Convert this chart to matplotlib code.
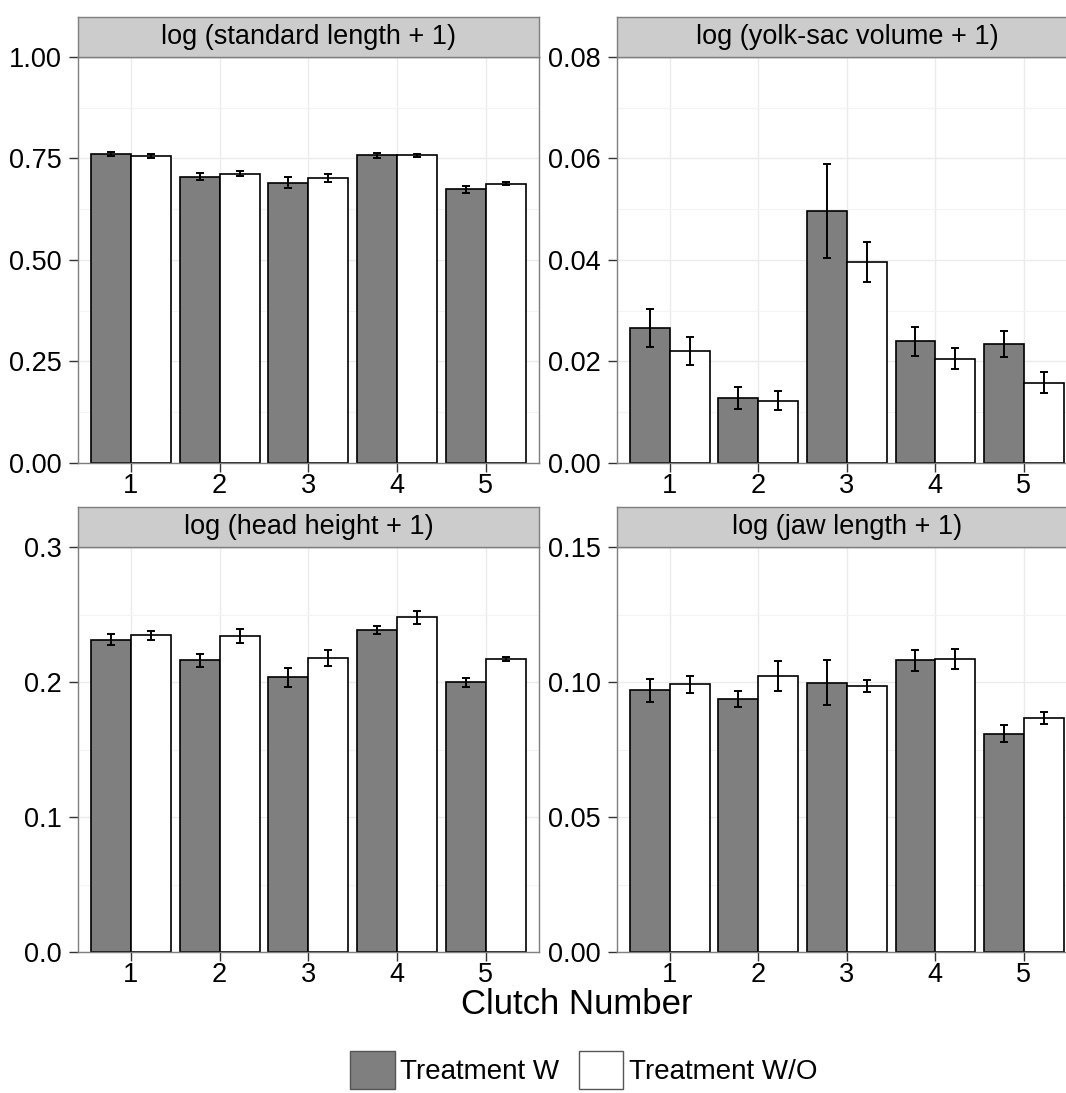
import numpy as np
import matplotlib
matplotlib.use("Agg")
import matplotlib.pyplot as plt
from matplotlib.patches import Patch

plt.rcParams['font.family'] = ['Liberation Sans', 'DejaVu Sans']

# ---------------- data ----------------
clutches = [1, 2, 3, 4, 5]
treatments = ["Treatment W", "Treatment W/O"]
panel_titles = ["log (standard length + 1)", "log (yolk-sac volume + 1)",
                "log (head height + 1)", "log (jaw length + 1)"]

# standard length
sl_w = [0.762, 0.705, 0.690, 0.758, 0.674]
sl_w_se = [0.005, 0.008, 0.014, 0.006, 0.008]
sl_wo = [0.757, 0.712, 0.702, 0.758, 0.688]
sl_wo_se = [0.005, 0.006, 0.010, 0.004, 0.003]

# yolk-sac volume
ys_w = [0.0266, 0.0128, 0.0496, 0.0239, 0.0234]
ys_w_se = [0.0037, 0.0022, 0.0093, 0.0028, 0.0026]
ys_wo = [0.0220, 0.0122, 0.0396, 0.0205, 0.0158]
ys_wo_se = [0.0028, 0.0019, 0.0039, 0.0021, 0.0020]

# head height
hh_w = [0.2313, 0.2160, 0.2034, 0.2385, 0.1997]
hh_w_se = [0.0041, 0.0046, 0.0072, 0.0033, 0.0033]
hh_wo = [0.2345, 0.2340, 0.2175, 0.2479, 0.2172]
hh_wo_se = [0.0033, 0.0050, 0.0059, 0.0048, 0.0015]

# jaw length
jl_w = [0.0969, 0.0938, 0.0997, 0.1080, 0.0809]
jl_w_se = [0.0043, 0.0029, 0.0083, 0.0038, 0.0030]
jl_wo = [0.0991, 0.1022, 0.0985, 0.1086, 0.0866]
jl_wo_se = [0.0030, 0.0054, 0.0023, 0.0037, 0.0023]

y_limits = [1.0, 0.08, 0.3, 0.15]
y_ticks = [[0, 0.25, 0.5, 0.75, 1.0], [0, 0.02, 0.04, 0.06, 0.08],
           [0, 0.1, 0.2, 0.3], [0, 0.05, 0.10, 0.15]]
y_fmt = ["{:.2f}", "{:.2f}", "{:.1f}", "{:.2f}"]

series = [(sl_w, sl_w_se, sl_wo, sl_wo_se),
          (ys_w, ys_w_se, ys_wo, ys_wo_se),
          (hh_w, hh_w_se, hh_wo, hh_wo_se),
          (jl_w, jl_w_se, jl_wo, jl_wo_se)]

# ---------------- layout ----------------
W, H = 1066, 1093
fig = plt.figure(figsize=(W / 100, H / 100), dpi=100)
fig.patch.set_facecolor('white')


def rect(l, t, r, b):
    return [l / W, 1 - b / H, (r - l) / W, (b - t) / H]


cols = [(77.7, 539.0), (616.7, 1077.0)]
rows = [(17, 57, 462.7), (507, 547, 952.0)]

dark = '#7f7f7f'
border = '#7f7f7f'
bw = 0.45

for i in range(4):
    r, c = divmod(i, 2)
    l, rr = cols[c]
    st, pt, pb = rows[r]
    ax = fig.add_axes(rect(l, pt, rr, pb))
    sax = fig.add_axes(rect(l, st, rr, pt))

    # strip
    sax.set_facecolor('#cccccc')
    sax.set_xticks([]); sax.set_yticks([])
    for sp in sax.spines.values():
        sp.set_color(border); sp.set_linewidth(1.0)
    sax.text(0.5, 0.5, panel_titles[i], ha='center', va='center',
             fontsize=19.5, transform=sax.transAxes, color='black')

    w, wse, wo, wose = series[i]
    x = np.array(clutches, dtype=float)
    ax.set_axisbelow(True)
    ax.bar(x - bw / 2, w, width=bw, color=dark, edgecolor='black', linewidth=1.2, zorder=2)
    ax.bar(x + bw / 2, wo, width=bw, color='white', edgecolor='black', linewidth=1.2, zorder=2)
    ax.errorbar(x - bw / 2, w, yerr=wse, fmt='none', ecolor='black', elinewidth=1.4,
                capsize=2.6, capthick=1.4, zorder=3)
    ax.errorbar(x + bw / 2, wo, yerr=wose, fmt='none', ecolor='black', elinewidth=1.4,
                capsize=2.6, capthick=1.4, zorder=3)

    ax.set_xlim(0.4, 5.6)
    ax.set_ylim(0, y_limits[i])
    yt = y_ticks[i]
    ax.set_yticks(yt)
    ax.set_yticklabels([y_fmt[i].format(v) for v in yt])
    ax.set_yticks([(a + b) / 2 for a, b in zip(yt[:-1], yt[1:])], minor=True)
    ax.set_xticks(clutches)
    ax.set_xticklabels([str(cn) for cn in clutches])

    ax.grid(True, which='major', color='#ebebeb', linewidth=1.0)
    ax.grid(True, which='minor', axis='y', color='#f4f4f4', linewidth=0.8)
    ax.tick_params(which='minor', length=0)
    ax.tick_params(axis='both', which='major', length=6.5, width=1.0, color='#333333',
                   labelsize=19.5, labelcolor='black')
    ax.tick_params(axis='y', pad=5)
    ax.tick_params(axis='x', pad=1)
    for sp in ax.spines.values():
        sp.set_color(border); sp.set_linewidth(1.0)
        sp.set_zorder(4)

fig.text(577 / W, 1 - 1005 / H, "Clutch Number", ha='center', va='center', fontsize=25)

handles = [Patch(facecolor=dark, edgecolor='#555555', linewidth=1.0),
           Patch(facecolor='white', edgecolor='#555555', linewidth=1.0)]
fig.legend(handles=handles, labels=treatments, loc='upper center',
           bbox_to_anchor=(584 / W, 1 - 1051 / H), ncol=2, frameon=False,
           fontsize=20, handlelength=1.6, handleheight=1.75, handletextpad=0.2,
           columnspacing=0.7, borderpad=0, borderaxespad=0)

fig.savefig('out.png', dpi=100, facecolor='white')
